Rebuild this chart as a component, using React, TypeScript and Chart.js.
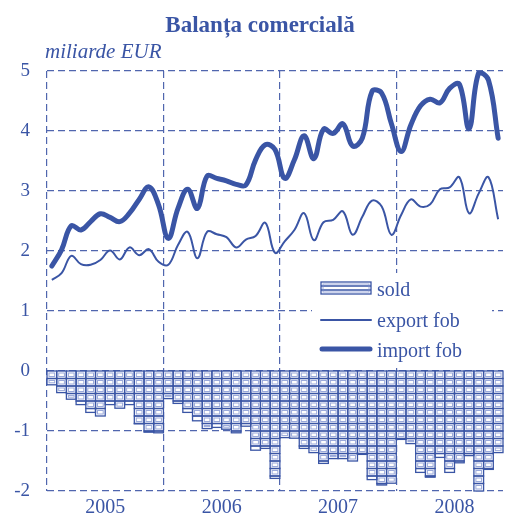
import React, { useEffect, useRef } from 'react';
import { Chart, registerables } from 'chart.js';

Chart.register(...registerables);

// ---- data (miliarde EUR, monthly Jan 2005 – Nov 2008) ----
const years = ['2005', '2006', '2007', '2008'];

const exportFob = [
  1.52, 1.63, 1.92, 1.78, 1.77, 1.85, 2.01, 1.86, 2.06, 1.93, 2.03, 1.82,
  1.77, 2.10, 2.32, 1.88, 2.32, 2.28, 2.23, 2.06, 2.19, 2.25, 2.47, 1.97,
  2.16, 2.35, 2.63, 2.18, 2.48, 2.52, 2.66, 2.27, 2.57, 2.84, 2.74, 2.27,
  2.60, 2.86, 2.74, 2.78, 3.03, 3.06, 3.23, 2.63, 2.96, 3.23, 2.53,
];

const importFob = [
  1.75, 2.02, 2.42, 2.35, 2.49, 2.62, 2.56, 2.49, 2.63, 2.86, 3.07, 2.77,
  2.21, 2.71, 3.03, 2.71, 3.25, 3.21, 3.17, 3.11, 3.10, 3.52, 3.77, 3.69,
  3.21, 3.52, 3.92, 3.54, 4.03, 3.96, 4.12, 3.75, 3.88, 4.66, 4.63, 4.12,
  3.66, 4.10, 4.42, 4.53, 4.47, 4.71, 4.78, 4.04, 4.97, 4.85, 3.88,
];

const sold = [
  -0.23, -0.36, -0.47, -0.56, -0.69, -0.75, -0.56, -0.62, -0.56, -0.88, -1.02, -1.03,
  -0.46, -0.54, -0.69, -0.83, -0.96, -0.94, -0.97, -1.03, -0.92, -1.32, -1.29, -1.79,
  -1.11, -1.12, -1.29, -1.36, -1.54, -1.46, -1.46, -1.50, -1.39, -1.81, -1.90, -1.87,
  -1.14, -1.21, -1.69, -1.77, -1.44, -1.69, -1.53, -1.41, -2.00, -1.64, -1.36,
];

const legendLabels = ['sold', 'export fob', 'import fob'];
const titleText = 'Balanța comercială';
const unitText = 'miliarde EUR';

// ---- styles ----
const BLUE = '#3a55a5';
const LIGHT = 'rgba(120,140,205,0.75)';
const GRID = '#5066ae';
const FONT = '"Liberation Serif", "Times New Roman", serif';
const CELL = 0.125;

export default function App() {
  const ref = useRef<HTMLCanvasElement | null>(null);

  useEffect(() => {
    const canvas = ref.current;
    if (!canvas) return;

    const drawCell = (ctx: CanvasRenderingContext2D, l: number, t: number, w: number, h: number) => {
      if (w > 5 && h > 5) {
        ctx.strokeStyle = LIGHT;
        ctx.lineWidth = 1;
        ctx.strokeRect(l + 2, t + 2, w - 4, h - 4);
      }
      ctx.strokeStyle = BLUE;
      ctx.lineWidth = 1.3;
      ctx.strokeRect(l, t, w, h);
    };

    const cellsPlugin = {
      id: 'cells',
      afterDatasetsDraw(chart: any) {
        const ctx: CanvasRenderingContext2D = chart.ctx;
        const yScale = chart.scales.y;
        const meta = chart.getDatasetMeta(0);
        const values = chart.data.datasets[0].data as any[];
        ctx.save();
        meta.data.forEach((bar: any, i: number) => {
          const p = bar.getProps(['x', 'width'], true);
          const v = values[i].y as number;
          const left = p.x - p.width / 2;
          for (let k = 0; -k * CELL > v + 1e-9; k++) {
            const top = yScale.getPixelForValue(-k * CELL);
            const bot = yScale.getPixelForValue(Math.max(-(k + 1) * CELL, v));
            drawCell(ctx, left, top, p.width, bot - top);
          }
        });
        ctx.restore();
      },
    };

    const decoPlugin = {
      id: 'deco',
      afterDraw(chart: any) {
        const ctx: CanvasRenderingContext2D = chart.ctx;
        ctx.save();
        ctx.fillStyle = BLUE;
        ctx.textBaseline = 'alphabetic';
        ctx.textAlign = 'center';
        ctx.font = `bold 23px ${FONT}`;
        ctx.fillText(titleText, 260, 32);
        ctx.textAlign = 'left';
        ctx.font = `italic 21px ${FONT}`;
        ctx.fillText(unitText, 45, 58);

        // legend
        ctx.fillStyle = '#ffffff';
        ctx.fillRect(312, 273, 180, 93);
        // sold symbol
        const sx = 321, sw = 50, sy = 282, sh = 12;
        ctx.strokeStyle = BLUE;
        ctx.lineWidth = 1.3;
        ctx.strokeRect(sx, sy, sw, sh);
        ctx.beginPath();
        ctx.moveTo(sx, sy + sh / 3);
        ctx.lineTo(sx + sw, sy + sh / 3);
        ctx.moveTo(sx, sy + (2 * sh) / 3);
        ctx.lineTo(sx + sw, sy + (2 * sh) / 3);
        ctx.stroke();
        ctx.strokeStyle = LIGHT;
        ctx.lineWidth = 1;
        ctx.strokeRect(sx + 2, sy + 2, sw - 4, sh - 4);
        // export
        ctx.strokeStyle = BLUE;
        ctx.lineCap = 'round';
        ctx.lineWidth = 2;
        ctx.beginPath();
        ctx.moveTo(321, 320);
        ctx.lineTo(371, 320);
        ctx.stroke();
        // import
        ctx.lineWidth = 5;
        ctx.beginPath();
        ctx.moveTo(322, 349);
        ctx.lineTo(370, 349);
        ctx.stroke();

        ctx.fillStyle = BLUE;
        ctx.font = `20px ${FONT}`;
        ctx.fillText(legendLabels[0], 377, 296);
        ctx.fillText(legendLabels[1], 377, 327);
        ctx.fillText(legendLabels[2], 377, 357);
        ctx.restore();
      },
    };

    const xy = (arr: number[]) => arr.map((v, i) => ({ x: i + 0.5, y: v }));

    const chart = new Chart(canvas, {
      type: 'bar',
      data: {
        datasets: [
          {
            type: 'bar',
            label: legendLabels[0],
            data: xy(sold),
            backgroundColor: '#ffffff',
            borderColor: BLUE,
            borderWidth: 0,
            barPercentage: 1,
            categoryPercentage: 1,
          } as any,
          {
            type: 'line',
            label: legendLabels[1],
            data: xy(exportFob),
            borderColor: BLUE,
            borderWidth: 2,
            pointRadius: 0,
            tension: 0.4,
            fill: false,
          } as any,
          {
            type: 'line',
            label: legendLabels[2],
            data: xy(importFob),
            borderColor: BLUE,
            borderWidth: 5,
            pointRadius: 0,
            tension: 0.4,
            fill: false,
            borderCapStyle: 'round',
            borderJoinStyle: 'round',
          } as any,
        ],
      },
      options: {
        responsive: false,
        animation: false,
        devicePixelRatio: 1,
        layout: { padding: { top: 71, right: 9, left: 0, bottom: 0 } },
        plugins: {
          legend: { display: false },
          title: { display: false },
          tooltip: { enabled: false },
        },
        scales: {
          x: {
            type: 'linear',
            offset: false,
            min: 0,
            max: sold.length,
            afterBuildTicks: (scale: any) => {
              const t = [];
              for (let v = 0; v < sold.length; v += 6) t.push({ value: v });
              scale.ticks = t;
            },
            afterFit: (scale: any) => {
              scale.height = 32;
            },
            grid: {
              offset: false,
              color: (c: any) => (c.tick && c.tick.value % 12 === 0 ? GRID : 'rgba(0,0,0,0)'),
              lineWidth: 1.2,
              drawTicks: false,
              borderDash: [7, 4],
            } as any,
            border: { display: false, dash: [7, 4] },
            ticks: {
              autoSkip: false,
              maxRotation: 0,
              padding: 5,
              color: BLUE,
              font: { family: FONT, size: 20 },
              callback: (v: any) => {
                const n = Number(v);
                return n % 12 === 6 ? years[Math.floor(n / 12)] : '';
              },
            },
          },
          y: {
            type: 'linear',
            min: -2,
            max: 5,
            afterFit: (scale: any) => {
              scale.width = 47;
            },
            grid: {
              color: GRID,
              lineWidth: 1.2,
              drawTicks: false,
              borderDash: [7, 4],
            } as any,
            border: { display: false, dash: [7, 4] },
            ticks: {
              stepSize: 1,
              padding: 17,
              color: BLUE,
              font: { family: FONT, size: 19 },
            },
          },
        },
      },
      plugins: [cellsPlugin, decoPlugin],
    });

    return () => chart.destroy();
  }, []);

  return (
    <canvas
      ref={ref}
      width={512}
      height={523}
      style={{ position: 'absolute', left: 0, top: 0, width: 512, height: 523, display: 'block' }}
    />
  );
}
